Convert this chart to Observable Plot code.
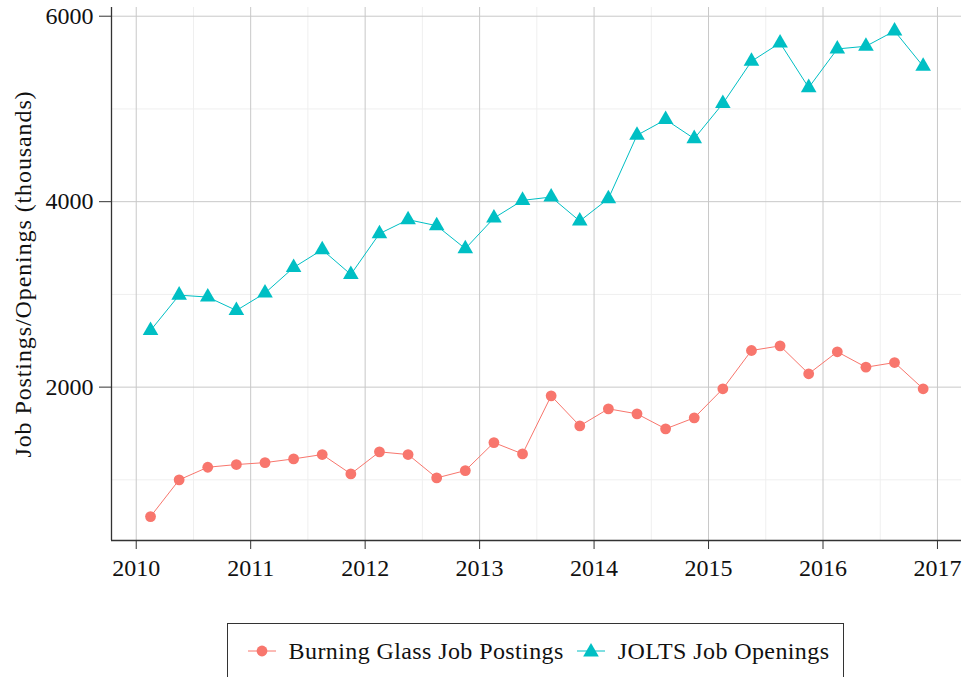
<!DOCTYPE html>
<html>
<head>
<meta charset="utf-8">
<script src="https://cdn.jsdelivr.net/npm/d3@7"></script>
<script src="https://cdn.jsdelivr.net/npm/@observablehq/plot@0.6"></script>
<style>
  html, body { margin: 0; padding: 0; background: #fff; }
  #wrap { position: relative; width: 964px; height: 677px; overflow: hidden; font-family: "Liberation Serif", serif; }
  #legend { position: absolute; left: 227px; top: 623px; width: 617px; height: 56px; border: 1px solid #333; box-sizing: border-box; display: flex; align-items: center; justify-content: center; gap: 13px; font-size: 24px; letter-spacing: 0.4px; color: #111; padding-left: 6px; }
  .item { display: flex; align-items: center; gap: 13px; }
</style>
</head>
<body>
<div id="wrap">
  <div id="chart"></div>
  <div id="legend"></div>
</div>
<script>
const quarters = [
  2010.125, 2010.375, 2010.625, 2010.875,
  2011.125, 2011.375, 2011.625, 2011.875,
  2012.125, 2012.375, 2012.625, 2012.875,
  2013.125, 2013.375, 2013.625, 2013.875,
  2014.125, 2014.375, 2014.625, 2014.875,
  2015.125, 2015.375, 2015.625, 2015.875,
  2016.125, 2016.375, 2016.625, 2016.875
];
const burningGlass = [
  604, 1000, 1136, 1165,
  1186, 1226, 1273, 1064,
  1302, 1273, 1021, 1100,
  1402, 1280, 1906, 1582,
  1766, 1712, 1550, 1669,
  1982, 2395, 2445, 2144,
  2381, 2215, 2265, 1982
];
const jolts = [
  2611, 2992, 2971, 2827,
  3014, 3290, 3482, 3215,
  3655, 3806, 3741, 3493,
  3823, 4014, 4050, 3791,
  4032, 4716, 4885, 4680,
  5058, 5514, 5712, 5230,
  5647, 5676, 5841, 5460
];
const seriesNames = ["Burning Glass Job Postings", "JOLTS Job Openings"];
const seriesColors = ["#F8766D", "#00BFC4"];
const xTicks = [2010, 2011, 2012, 2013, 2014, 2015, 2016, 2017];
const xMinor = [2010.5, 2011.5, 2012.5, 2013.5, 2014.5, 2015.5, 2016.5];
const yTicks = [2000, 4000, 6000];
const yMinor = [1000, 3000, 5000];
const yLabel = "Job Postings/Openings (thousands)";

const bgData = quarters.map((q, i) => ({x: q, y: burningGlass[i], s: seriesNames[0]}));
const joData = quarters.map((q, i) => ({x: q, y: jolts[i], s: seriesNames[1]}));

const xDomain = [2009.784, 2017.21];
const yDomain = [346, 6094];
const axisColor = "#333";

const chart = Plot.plot({
  width: 964,
  height: 590,
  marginLeft: 111,
  marginRight: 3,
  marginTop: 7,
  marginBottom: 50,
  style: {fontFamily: "Liberation Serif, serif", fontSize: "24px", color: "#111", background: "#fff", overflow: "visible"},
  x: {domain: xDomain},
  y: {domain: yDomain},
  marks: [
    Plot.ruleY(yMinor, {stroke: "#efefef", strokeWidth: 1}),
    Plot.ruleX(xMinor, {stroke: "#efefef", strokeWidth: 1}),
    Plot.ruleY(yTicks, {stroke: "#c8c8c8", strokeWidth: 1}),
    Plot.ruleX(xTicks, {stroke: "#c8c8c8", strokeWidth: 1}),
    Plot.ruleX([xDomain[0]], {stroke: axisColor, strokeWidth: 1.3}),
    Plot.ruleY([yDomain[0]], {stroke: axisColor, strokeWidth: 1.3}),
    Plot.axisX({ticks: xTicks, tickFormat: "d", tickSize: 9, tickPadding: 9, stroke: axisColor, fontSize: 24, label: null}),
    Plot.axisY({ticks: yTicks, tickFormat: "d", tickSize: 12, tickPadding: 6, stroke: axisColor, fontSize: 24, label: null}),
    Plot.text([yLabel], {frameAnchor: "left", dx: -88, rotate: -90, fontSize: 24, fill: "#111", text: d => d, textAnchor: "middle", lineAnchor: "middle"}),
    Plot.line(bgData, {x: "x", y: "y", stroke: seriesColors[0], strokeWidth: 1}),
    Plot.line(joData, {x: "x", y: "y", stroke: seriesColors[1], strokeWidth: 1}),
    Plot.dot(bgData, {x: "x", y: "y", fill: seriesColors[0], r: 5.4, symbol: "circle"}),
    Plot.dot(joData, {x: "x", y: "y", fill: seriesColors[1], r: 5.8, symbol: "triangle"})
  ]
});
chart.querySelectorAll("text").forEach(t => { if (t.textContent === yLabel) t.setAttribute("letter-spacing", "0.9"); });
document.getElementById("chart").appendChild(chart);

const legend = document.getElementById("legend");
seriesNames.forEach((name, i) => {
  const item = document.createElement("div");
  item.className = "item";
  const sw = d3.create("svg").attr("width", 28).attr("height", 16);
  sw.append("line").attr("x1", 0).attr("x2", 28).attr("y1", 8).attr("y2", 8).attr("stroke", seriesColors[i]).attr("stroke-width", 1);
  if (i === 0) {
    sw.append("circle").attr("cx", 14).attr("cy", 8).attr("r", 5.4).attr("fill", seriesColors[i]);
  } else {
    sw.append("path").attr("transform", "translate(14,9)").attr("d", d3.symbol(d3.symbolTriangle, Math.PI * 5.8 * 5.8)()).attr("fill", seriesColors[i]);
  }
  item.appendChild(sw.node());
  const t = document.createElement("span");
  t.textContent = name;
  item.appendChild(t);
  legend.appendChild(item);
});
</script>
</body>
</html>
